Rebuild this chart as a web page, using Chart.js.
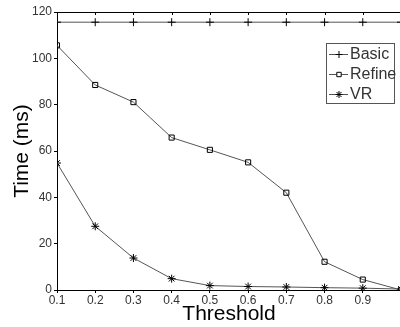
<!DOCTYPE html>
<html>
<head>
<meta charset="utf-8">
<script src="https://cdn.jsdelivr.net/npm/chart.js@4/dist/chart.umd.min.js"></script>
<style>
  html, body { margin: 0; padding: 0; background: #fff; }
  .wrap { width: 400px; height: 327px; overflow: hidden; position: relative; }
  canvas { display: block; }
</style>
</head>
<body>
<div class="wrap"><canvas id="chart" width="406" height="327"></canvas></div>
<script>
// Threshold vs time data
var thresholds = [0.1, 0.2, 0.3, 0.4, 0.5, 0.6, 0.7, 0.8, 0.9, 1.0];
var basicTimes = [115.6, 115.6, 115.6, 115.6, 115.6, 115.6, 115.6, 115.6, 115.6, 115.6];
var refineTimes = [105.6, 88.5, 81.1, 65.8, 60.5, 55.1, 42.0, 12.2, 4.5, 0];
var vrTimes = [54.8, 27.5, 13.8, 4.9, 1.9, 1.5, 1.3, 1.0, 0.8, 0.4];
var xTicks = [0.1, 0.2, 0.3, 0.4, 0.5, 0.6, 0.7, 0.8, 0.9];
var yTicks = [0, 20, 40, 60, 80, 100, 120];
var seriesNames = ['Basic', 'Refine', 'VR'];

function pts(ys) {
  return thresholds.map(function (x, i) { return { x: x, y: ys[i] }; });
}

var FONT = '"Liberation Sans", Arial, sans-serif';

// top border + small ticks, matlab style box
var boxPlugin = {
  id: 'box',
  afterDraw: function (chart) {
    var ctx = chart.ctx, a = chart.chartArea, xs = chart.scales.x;
    ctx.save();
    ctx.strokeStyle = '#000';
    ctx.lineWidth = 1;
    ctx.beginPath();
    ctx.moveTo(a.left, a.top + 0.5);
    ctx.lineTo(a.right, a.top + 0.5);
    ctx.moveTo(a.right - 0.5, a.top);
    ctx.lineTo(a.right - 0.5, a.bottom);
    xTicks.forEach(function (t) {
      var px = Math.round(xs.getPixelForValue(t)) + 0.5;
      ctx.moveTo(px, a.top);
      ctx.lineTo(px, a.top + 3);
    });
    ctx.stroke();
    ctx.restore();
  }
};

// legend box drawn inside the plot
var legendPlugin = {
  id: 'boxLegend',
  afterDraw: function (chart, args, opts) {
    var ctx = chart.ctx;
    ctx.save();
    ctx.fillStyle = '#fff';
    ctx.fillRect(opts.x, opts.y, opts.w, opts.h);
    ctx.strokeStyle = '#555';
    ctx.lineWidth = 1;
    ctx.strokeRect(opts.x + 0.5, opts.y + 0.5, opts.w, opts.h);
    ctx.font = '16px ' + FONT;
    ctx.textBaseline = 'middle';
    chart.data.datasets.forEach(function (ds, i) {
      var cy = opts.y + 11 + i * 20;
      var lx = opts.x + 3;
      ctx.strokeStyle = ds.borderColor;
      ctx.beginPath();
      ctx.moveTo(lx, cy + 0.5);
      ctx.lineTo(lx + 19, cy + 0.5);
      ctx.stroke();
      ctx.strokeStyle = ds.pointBorderColor;
      ctx.fillStyle = '#fff';
      Chart.helpers.drawPoint(ctx, {
        pointStyle: ds.pointStyle,
        radius: ds.pointRadius - 0.5,
        borderWidth: 1,
        rotation: 0
      }, lx + 10, cy + 0.5);
      ctx.fillStyle = '#333';
      ctx.fillText(ds.label, lx + 21, cy + 1);
    });
    ctx.restore();
  }
};

function makeSet(label, ys, style, r) {
  return {
    label: label,
    data: pts(ys),
    borderColor: '#555',
    borderWidth: 1,
    pointStyle: style,
    pointRadius: r,
    pointHoverRadius: r,
    pointBorderColor: '#000',
    pointBackgroundColor: 'rgba(255,255,255,0)',
    pointBorderWidth: 1,
    tension: 0
  };
}

new Chart(document.getElementById('chart').getContext('2d'), {
  type: 'line',
  data: {
    datasets: [
      makeSet(seriesNames[0], basicTimes, 'cross', 4),
      makeSet(seriesNames[1], refineTimes, 'rect', 3.6),
      makeSet(seriesNames[2], vrTimes, 'star', 4)
    ]
  },
  options: {
    responsive: false,
    animation: false,
    layout: { padding: { top: 12, right: 1, left: 0, bottom: 0 } },
    plugins: {
      legend: { display: false },
      tooltip: { enabled: false },
      boxLegend: { x: 326, y: 43, w: 68, h: 60 }
    },
    scales: {
      x: {
        type: 'linear',
        min: 0.1,
        max: 1.0,
        afterBuildTicks: function (s) { s.ticks = xTicks.map(function (v) { return { value: v }; }); },
        afterFit: function (s) { s.height = 37; },
        border: { display: true, color: '#000', width: 1 },
        grid: { drawOnChartArea: false, drawTicks: true, tickLength: 3, color: '#000' },
        ticks: {
          padding: 0,
          maxRotation: 0,
          autoSkip: false,
          color: '#333',
          font: { family: FONT, size: 12 },
          callback: function (v) { return v.toFixed(1); }
        },
        title: {
          display: true,
          text: 'Threshold',
          color: '#000',
          font: { family: FONT, size: 21 },
          padding: { top: 0, bottom: 0 }
        }
      },
      y: {
        min: 0,
        max: 120,
        afterBuildTicks: function (s) { s.ticks = yTicks.map(function (v) { return { value: v }; }); },
        afterFit: function (s) { s.width = 57; },
        border: { display: true, color: '#000', width: 1 },
        grid: { drawOnChartArea: false, drawTicks: true, tickLength: 3, color: '#000' },
        ticks: {
          padding: 2,
          color: '#333',
          font: { family: FONT, size: 12 }
        },
        title: {
          display: true,
          text: 'Time (ms)',
          color: '#000',
          font: { family: FONT, size: 21 },
          padding: { top: 10, bottom: 0 }
        }
      }
    }
  },
  plugins: [boxPlugin, legendPlugin]
});
</script>
</body>
</html>
